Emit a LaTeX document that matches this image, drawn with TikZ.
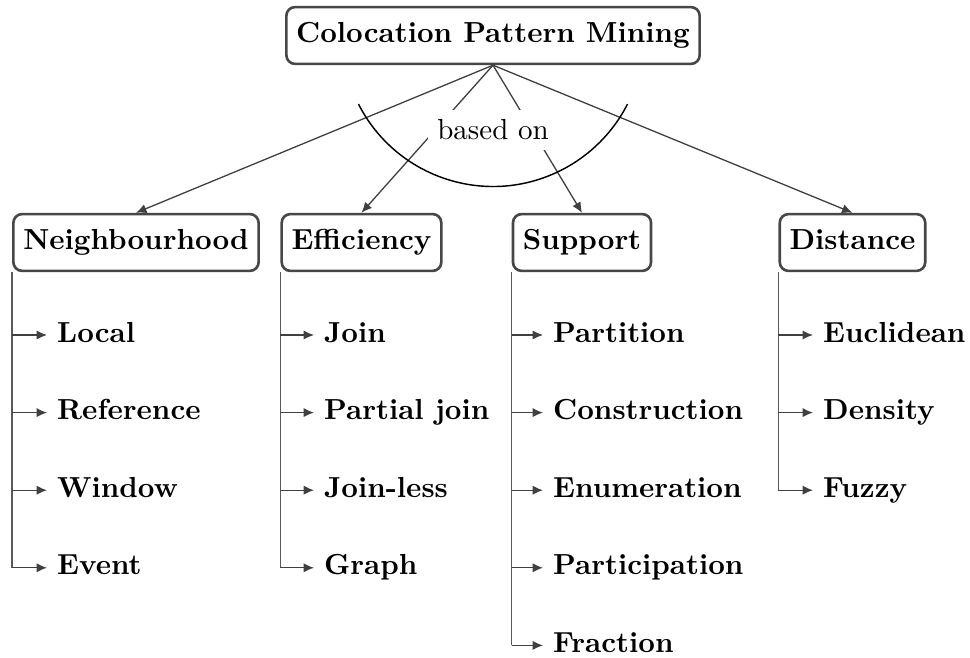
\documentclass[tikz,border=0pt]{standalone}
\usetikzlibrary{arrows.meta}
\begin{document}
\begin{tikzpicture}[x=0.345pt,y=0.345pt,
  box/.style={draw=black!72, line width=0.9pt, rounded corners=3pt, fill=white,
    font=\bfseries, minimum height=19.6pt, inner xsep=3.4pt, inner ysep=3pt,
    text height=1.6ex, text depth=0.45ex},
  item/.style={anchor=west, font=\bfseries, inner sep=3.33pt,
    text height=1.6ex, text depth=0.45ex},
  link/.style={draw=black!75, line width=0.45pt, -{Latex[length=3.6pt,width=3.2pt]}},
  rail/.style={draw=black!65, line width=0.55pt},
  hub/.style={fill=white, inner sep=3.33pt},
]
\useasboundingbox (0,0) rectangle (970,-658);

% top-level topic
\node[box] (root) at (493,-35.5) {Colocation Pattern Mining};

% categories
\node[box] (nb) at (136,-242.5)   {Neighbourhood};
\node[box] (ef) at (361.5,-242.5) {Efficiency};
\node[box] (su) at (582,-242.5)   {Support};
\node[box] (di) at (852.5,-242.5) {Distance};

% connectors from the root to each category
\draw[link] (root.south) -- (nb.north);
\draw[link] (root.south) -- (ef.north);
\draw[link] (root.south) -- (su.north);
\draw[link] (root.south) -- (di.north);

% "based on" label over the central connectors, with its arc
\node[hub] (based) at (493,-130) {based on};
\draw[black, line width=0.5pt] (root.center) ++(207:151) arc[start angle=207, end angle=333, radius=151];

% Neighbourhood items
\node[item] (nb1) at (47,-335)   {Local};
\node[item] (nb2) at (47,-412.6) {Reference};
\node[item] (nb3) at (47,-490.2) {Window};
\node[item] (nb4) at (47,-567.8) {Event};
\draw[rail] (nb.south west) -- (nb.south west |- nb4.west);
\foreach \k in {nb1,nb2,nb3,nb4} \draw[link] (nb.south west |- \k.west) -- (\k.west);

% Efficiency items
\node[item] (ef1) at (314,-335)   {Join};
\node[item] (ef2) at (314,-412.6) {Partial join};
\node[item] (ef3) at (314,-490.2) {Join-less};
\node[item] (ef4) at (314,-567.8) {Graph};
\draw[rail] (ef.south west) -- (ef.south west |- ef4.west);
\foreach \k in {ef1,ef2,ef3,ef4} \draw[link] (ef.south west |- \k.west) -- (\k.west);

% Support items
\node[item] (su1) at (543,-335)   {Partition};
\node[item] (su2) at (543,-412.6) {Construction};
\node[item] (su3) at (543,-490.2) {Enumeration};
\node[item] (su4) at (543,-567.8) {Participation};
\node[item] (su5) at (543,-645.4) {Fraction};
\draw[rail] (su.south west) -- (su.south west |- su5.west);
\foreach \k in {su1,su2,su3,su4,su5} \draw[link] (su.south west |- \k.west) -- (\k.west);

% Distance items
\node[item] (di1) at (813,-335)   {Euclidean};
\node[item] (di2) at (813,-412.6) {Density};
\node[item] (di3) at (813,-490.2) {Fuzzy};
\draw[rail] (di.south west) -- (di.south west |- di3.west);
\foreach \k in {di1,di2,di3} \draw[link] (di.south west |- \k.west) -- (\k.west);
\end{tikzpicture}
\end{document}
